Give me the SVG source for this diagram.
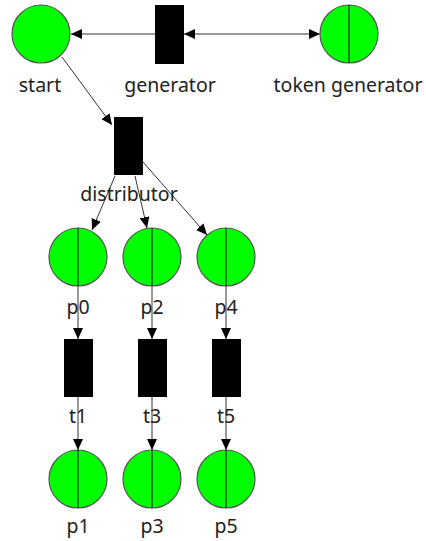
<svg xmlns="http://www.w3.org/2000/svg" width="426" height="541" viewBox="0 0 426 541">
  <defs>
    <marker id="arrow" markerUnits="userSpaceOnUse" markerWidth="11" markerHeight="10" refX="11" refY="5" orient="auto-start-reverse">
      <path d="M0,0 L11,5 L0,10 z" fill="#000"/>
    </marker>
  </defs>
  <style>
    .place { fill: #00ff00; stroke: #555; stroke-width: 1.2; }
    .mark { stroke: #000; stroke-width: 1; }
    .trans { fill: #000; }
    .arc { stroke: #333; stroke-width: 1; fill: none; marker-end: url(#arrow); }
    .label { font-family: "Noto Sans", "Open Sans", sans-serif; font-size: 19.5px; fill: #222; text-anchor: middle; }
  </style>
  <rect width="426" height="541" fill="#fff"/>

  <!-- connectors -->
  <g id="arcs">
    <line class="arc" x1="155" y1="34" x2="71" y2="34"/>
    <line class="arc" x1="184" y1="34" x2="320" y2="34" style="marker-start:url(#arrow)"/>
    <line class="arc" x1="62" y1="57" x2="112" y2="125"/>
    <line class="arc" x1="115" y1="176" x2="92" y2="230"/>
    <line class="arc" x1="135" y1="176" x2="147" y2="228"/>
    <line class="arc" x1="143" y1="162" x2="207" y2="235"/>
    <line class="arc" x1="78" y1="286" x2="78" y2="339"/>
    <line class="arc" x1="152" y1="286" x2="152" y2="339"/>
    <line class="arc" x1="226" y1="286" x2="226" y2="339"/>
    <line class="arc" x1="78" y1="397" x2="78" y2="450"/>
    <line class="arc" x1="152" y1="397" x2="152" y2="450"/>
    <line class="arc" x1="226" y1="397" x2="226" y2="450"/>
  </g>

  <!-- top row -->
  <g id="start">
    <circle class="place" cx="41" cy="34" r="29"/>
    <text class="label" x="40" y="92">start</text>
  </g>
  <g id="generator">
    <rect class="trans" x="155" y="5" width="29" height="59"/>
    <text class="label" x="170" y="92">generator</text>
  </g>
  <g id="token-generator">
    <circle class="place" cx="349" cy="34" r="29"/>
    <line class="mark" x1="349" y1="5" x2="349" y2="63"/>
    <text class="label" x="348" y="92">token generator</text>
  </g>

  <g id="distributor">
    <rect class="trans" x="114" y="117" width="29" height="58"/>
    <text class="label" x="129" y="201">distributor</text>
  </g>

  <!-- input places -->
  <g id="p0">
    <circle class="place" cx="78" cy="257" r="29"/>
    <line class="mark" x1="78" y1="228" x2="78" y2="286"/>
    <text class="label" x="78" y="314">p0</text>
  </g>
  <g id="p2">
    <circle class="place" cx="152" cy="257" r="29"/>
    <line class="mark" x1="152" y1="228" x2="152" y2="286"/>
    <text class="label" x="152" y="314">p2</text>
  </g>
  <g id="p4">
    <circle class="place" cx="226" cy="257" r="29"/>
    <line class="mark" x1="226" y1="228" x2="226" y2="286"/>
    <text class="label" x="226" y="314">p4</text>
  </g>

  <!-- transitions -->
  <g id="t1">
    <rect class="trans" x="64" y="339" width="29" height="58"/>
    <text class="label" x="78" y="423">t1</text>
  </g>
  <g id="t3">
    <rect class="trans" x="138" y="339" width="29" height="58"/>
    <text class="label" x="152" y="423">t3</text>
  </g>
  <g id="t5">
    <rect class="trans" x="212" y="339" width="29" height="58"/>
    <text class="label" x="226" y="423">t5</text>
  </g>

  <!-- output places -->
  <g id="p1">
    <circle class="place" cx="78" cy="479" r="29"/>
    <line class="mark" x1="78" y1="450" x2="78" y2="508"/>
    <text class="label" x="78" y="533">p1</text>
  </g>
  <g id="p3">
    <circle class="place" cx="152" cy="479" r="29"/>
    <line class="mark" x1="152" y1="450" x2="152" y2="508"/>
    <text class="label" x="152" y="533">p3</text>
  </g>
  <g id="p5">
    <circle class="place" cx="226" cy="479" r="29"/>
    <line class="mark" x1="226" y1="450" x2="226" y2="508"/>
    <text class="label" x="226" y="533">p5</text>
  </g>
</svg>
